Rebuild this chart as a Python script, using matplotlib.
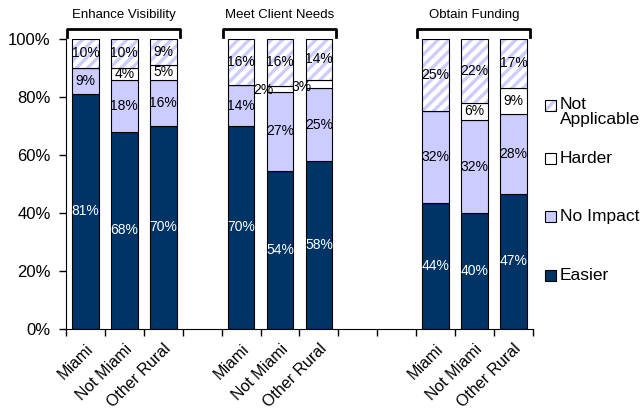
import numpy as np
import matplotlib.pyplot as plt
from matplotlib.patches import Rectangle

plt.rcParams['font.family'] = ['Liberation Sans', 'DejaVu Sans']
plt.rcParams['hatch.linewidth'] = 2.4

# data (percent, as labelled)
groups = ['Enhance Visibility', 'Meet Client Needs', 'Obtain Funding']
regions = ['Miami', 'Not Miami', 'Other Rural']
easier = [81, 68, 70, 70, 54, 58, 44, 40, 47]
no_impact = [9, 18, 16, 14, 27, 25, 32, 32, 28]
harder = [0, 4, 5, 0, 2, 3, 0, 6, 9]
not_applicable = [10, 10, 9, 16, 16, 14, 25, 22, 17]

# bar slots (gaps between groups)
slots = [0, 1, 2, 4, 5, 6, 9, 10, 11]

c_easy = '#003366'
c_noimp = '#CCCCFF'
c_hard = '#FFFFFF'

fig = plt.figure(figsize=(6.44, 4.19), dpi=100)
ax = fig.add_axes([0.1025, 0.215, 0.725, 0.692])

x = np.array(slots, dtype=float)
w = 0.68
e = np.array(easier)
n = np.array(no_impact)
h = np.array(harder)
na = np.array(not_applicable)

# 100% stacked: scale each bar to its total
tot = (e + n + h + na) / 100.0
es, ns, hs, nas = e / tot, n / tot, h / tot, na / tot

ax.bar(x, es, w, color=c_easy, edgecolor='black', linewidth=0.8)
ax.bar(x, ns, w, bottom=es, color=c_noimp, edgecolor='black', linewidth=0.8)
ax.bar(x, hs, w, bottom=es + ns, color=c_hard, edgecolor='black', linewidth=0.8)
ax.bar(x, nas, w, bottom=es + ns + hs, color='white', edgecolor=c_noimp,
       linewidth=0, hatch='///')
ax.bar(x, nas, w, bottom=es + ns + hs, fill=False, edgecolor='black',
       linewidth=0.8)

# value labels
for i in range(len(x)):
    ax.text(x[i], es[i] / 2, f'{e[i]}%', ha='center', va='center',
            color='white', fontsize=10)
    ax.text(x[i], es[i] + ns[i] / 2, f'{n[i]}%', ha='center', va='center',
            fontsize=10)
    if h[i] > 0:
        if h[i] < 4:
            ax.text(x[i] - 0.44, es[i] + ns[i] + 0.5, f'{h[i]}%', ha='center',
                    va='center', fontsize=10)
        else:
            ax.text(x[i], es[i] + ns[i] + hs[i] / 2, f'{h[i]}%', ha='center',
                    va='center', fontsize=10)
    ax.text(x[i], 100 - nas[i] / 2, f'{na[i]}%', ha='center', va='center',
            fontsize=10)

# group brackets and titles
for g, name in enumerate(groups):
    s = slots[g * 3:g * 3 + 3]
    x0, x1 = s[0] - 0.47, s[-1] + 0.43
    ax.plot([x0, x0, x1, x1], [100.7, 103.6, 103.6, 100.7], color='black',
            lw=2, clip_on=False, solid_joinstyle='round')
    ax.text(np.mean(s), 108.3, name, ha='center', va='center', fontsize=9.5)

ax.set_xlim(-0.5, 11.5)
ax.set_ylim(0, 100)
ax.set_yticks(np.arange(0, 101, 20))
ax.set_yticklabels([f'{v}%' for v in range(0, 101, 20)], fontsize=12)
ax.set_xticks(np.arange(-0.5, 12, 1))
ax.set_xticklabels([])
ax.set_xticks(x, minor=True)
ax.set_xticklabels(regions * 3, minor=True, rotation=45, ha='right',
                   rotation_mode='anchor', fontsize=11.5)
ax.tick_params(axis='x', which='minor', length=0, pad=9)
ax.tick_params(axis='both', which='major', direction='out', length=5, width=1)
ax.tick_params(axis='y', pad=6)
ax.spines['top'].set_visible(False)
ax.spines['right'].set_visible(False)

# legend drawn by hand
W, H = 644, 419
items = [('Not\nApplicable', 'white', c_noimp, '///', 105.5),
         ('Harder', c_hard, None, None, 158),
         ('No Impact', c_noimp, None, None, 216),
         ('Easier', c_easy, None, None, 275)]
for label, fc, hc, hatch, yc in items:
    ys = 1 - yc / H
    if hatch:
        fig.add_artist(Rectangle((545 / W, ys - 5.5 / H), 11 / W, 11 / H,
                                 facecolor='white', edgecolor=hc, lw=0,
                                 hatch='///', transform=fig.transFigure))
        fig.add_artist(Rectangle((545 / W, ys - 5.5 / H), 11 / W, 11 / H,
                                 fill=False, edgecolor='black', lw=0.8,
                                 transform=fig.transFigure))
        fig.text(560 / W, ys + 8.5 / H, label, ha='left', va='top',
                 fontsize=12.5, linespacing=1.0)
    else:
        fig.add_artist(Rectangle((545 / W, ys - 5.5 / H), 11 / W, 11 / H,
                                 facecolor=fc, edgecolor='black', lw=0.8,
                                 transform=fig.transFigure))
        fig.text(560 / W, ys, label, ha='left', va='center', fontsize=12.5)

fig.savefig('out.png', dpi=100)
